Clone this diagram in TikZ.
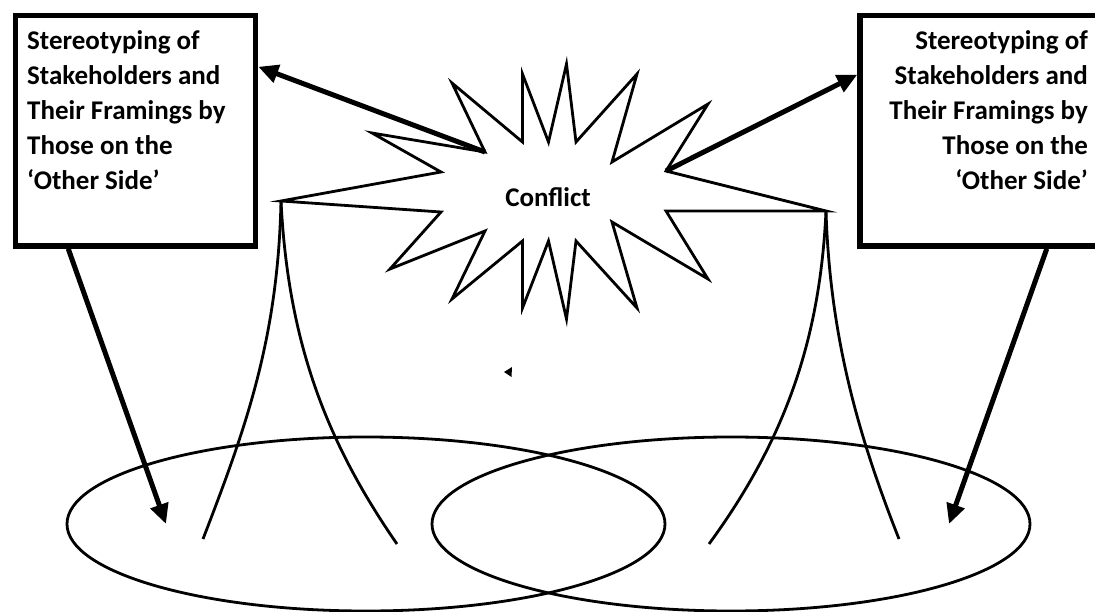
\documentclass[tikz,border=0pt]{standalone}
\usepackage{fontspec}
\setmainfont{Carlito}
\usetikzlibrary{arrows.meta,positioning,shapes.geometric}

\begin{document}
\begin{tikzpicture}[
  x=1pt, y=-1pt,
  frame/.style={draw, line width=5.5pt, minimum width=240pt, minimum height=230.5pt},
  txt/.style={font=\fontsize{27}{35}\selectfont\bfseries, inner sep=0pt},
  ring/.style={draw, ellipse, line width=2.8pt, minimum width=598pt, minimum height=174pt},
  thin/.style={line width=2.8pt, line join=miter},
  arr/.style={line width=5pt, -{Triangle[length=20pt,width=18pt]}}
]
\useasboundingbox (0,0) rectangle (1095,612);

\node[ring] (lset) at (366,524) {};
\node[ring] (rset) at (731,524) {};

\node[frame] (lbox) at (135.5,130.75) {};
\node[frame] (rbox) at (980,130.75) {};
\node[txt, align=left, anchor=north west] (ltxt) at (27,30)
  {Stereotyping of\\Stakeholders and\\Their Framings by\\Those on the\\‘Other Side’};
\node[txt, align=right, anchor=north east] (rtxt) at (1088,30)
  {Stereotyping of\\Stakeholders and\\Their Framings by\\Those on the\\‘Other Side’};

\draw[thin] (566.5,64) -- (576,142) -- (637,74) -- (612,162) -- (708,104)
  -- (666,171) coordinate (rin) -- (826,211) coordinate (rtip) -- (666,211)
  -- (708,279) -- (612,222) -- (637,308) -- (576,241) -- (566.5,319)
  -- (548.5,241) -- (522.5,308) -- (522.5,241) -- (452,299) -- (485,231)
  -- (390,269) -- (441,212) -- (281,201) coordinate (ltip) -- (441,172)
  -- (372,133) -- (485,152) coordinate (lin) -- (452,83) -- (522.5,142)
  -- (522.5,74) -- (548.5,142) -- cycle;
\node[txt] (conf) at (548,197) {Conflict};

\coordinate (la) at (203,539);
\coordinate (lb) at (397,544);
\coordinate (ra) at (709,544);
\coordinate (rb) at (899,539);
\draw[thin] (ltip) .. controls (278,340) and (245,430) .. (la);
\draw[thin] (ltip) .. controls (288,340) and (325,440) .. (lb);
\draw[thin] (rtip) .. controls (820,340) and (785,440) .. (ra);
\draw[thin] (rtip) .. controls (830,340) and (860,440) .. (rb);

\draw[arr] (lin) -- ([yshift=-54pt]lbox.north east);
\draw[arr] (rin) -- ([yshift=-62pt]rbox.north west);
\draw[arr] ([xshift=55.5pt]lbox.south west) -- ([xshift=-200pt]lset.center);
\draw[arr] ([xshift=-56pt]rbox.south east) -- ([xshift=218pt]rset.center);

\fill (504,372) -- (512,367) -- (511.5,377) -- cycle;
\end{tikzpicture}
\end{document}
